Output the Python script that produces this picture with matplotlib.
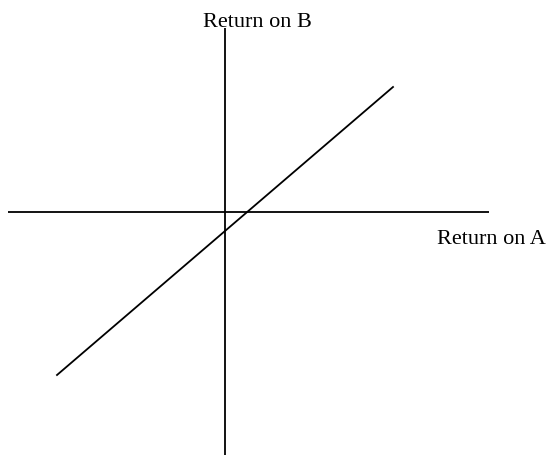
import matplotlib
matplotlib.use('Agg')
import matplotlib.pyplot as plt

# Axis extents (origin where the two axes cross)
a_axis = [-2.17, 2.64]
b_axis = [-2.43, 1.84]

# Regression-like line: return on A vs return on B
line_a = [-1.68, 1.68]
line_b = [-1.63, 1.25]

fig = plt.figure(figsize=(5.51, 4.57), dpi=100)
ax = fig.add_axes([0, 0, 1, 1])
ax.set_xlim(-2.25, 3.26)
ax.set_ylim(-2.45, 2.12)
ax.axis('off')

ax.plot(a_axis, [0, 0], color='black', lw=1.3, solid_capstyle='butt')
ax.plot([0, 0], b_axis, color='black', lw=1.3, solid_capstyle='butt')
ax.plot(line_a, line_b, color='black', lw=1.3)

font = dict(family='Liberation Serif', size=16, color='black')
ax.text(0.32, 1.85, 'Return on B', ha='center', va='baseline', **font)
ax.text(2.12, -0.32, 'Return on A', ha='left', va='baseline', **font)

fig.savefig('out.png', dpi=100)
